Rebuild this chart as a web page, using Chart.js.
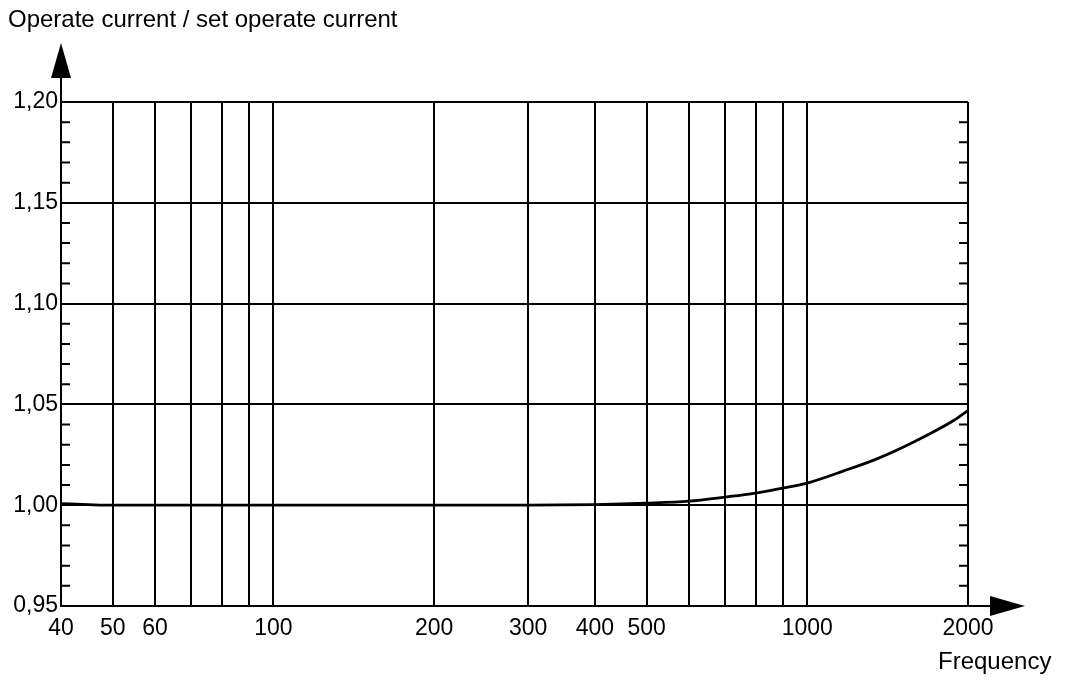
<!DOCTYPE html>
<html>
<head>
<meta charset="utf-8">
<script src="https://cdn.jsdelivr.net/npm/chart.js@4/dist/chart.umd.min.js"></script>
<style>
  html, body { margin: 0; padding: 0; background: #fff; }
  #wrap { width: 1071px; height: 681px; }
</style>
</head>
<body>
<div id="wrap"><canvas id="chart"></canvas></div>
<script>
  // curve
  var freqs = [40, 45, 50, 60, 100, 200, 300, 400, 500, 600, 700, 800, 900, 1000, 1170, 1350, 1600, 1880, 2000];
  var ratio = [1.0008, 1.0003, 1.0, 1.0, 1.0, 1.0, 1.0, 1.0003, 1.001, 1.002, 1.004, 1.006, 1.0085, 1.011, 1.017, 1.023, 1.032, 1.042, 1.047];

  var xGrid = [40, 50, 60, 70, 80, 90, 100, 200, 300, 400, 500, 600, 700, 800, 900, 1000, 2000];
  var xLabels = [40, 50, 60, 100, 200, 300, 400, 500, 1000, 2000];
  var yMajor = [0.95, 1.00, 1.05, 1.10, 1.15, 1.20];

  var yTitle = 'Operate current / set operate current';
  var xTitle = 'Frequency';

  var font = '"Liberation Sans", Arial, sans-serif';

  function isMajor(v) {
    return yMajor.some(function (m) { return Math.abs(m - v) < 1e-6; });
  }

  var decor = {
    id: 'decor',
    afterDraw: function (chart) {
      var ctx = chart.ctx;
      var a = chart.chartArea;
      var y = chart.scales.y;
      ctx.save();
      ctx.strokeStyle = '#000';
      ctx.fillStyle = '#000';
      ctx.lineWidth = 2;

      // minor ticks, inward on both sides
      y.ticks.forEach(function (t) {
        if (isMajor(t.value)) return;
        var py = y.getPixelForValue(t.value);
        ctx.beginPath();
        ctx.moveTo(a.left, py); ctx.lineTo(a.left + 9, py);
        ctx.moveTo(a.right, py); ctx.lineTo(a.right - 9, py);
        ctx.stroke();
      });

      // y arrow
      ctx.beginPath();
      ctx.moveTo(a.left, a.top); ctx.lineTo(a.left, 76);
      ctx.stroke();
      ctx.beginPath();
      ctx.moveTo(a.left, 43); ctx.lineTo(a.left + 10, 78); ctx.lineTo(a.left - 10, 78);
      ctx.closePath(); ctx.fill();

      // x arrow
      ctx.beginPath();
      ctx.moveTo(a.right, a.bottom); ctx.lineTo(992, a.bottom);
      ctx.stroke();
      ctx.beginPath();
      ctx.moveTo(1025, a.bottom); ctx.lineTo(990, a.bottom - 10); ctx.lineTo(990, a.bottom + 10);
      ctx.closePath(); ctx.fill();

      ctx.font = '24px ' + font;
      ctx.textBaseline = 'middle';
      ctx.textAlign = 'left';
      ctx.fillText(yTitle, 8, 20);
      ctx.fillText(xTitle, 938, 662);
      ctx.restore();
    }
  };

  new Chart(document.getElementById('chart'), {
    type: 'line',
    data: {
      datasets: [{
        data: freqs.map(function (f, i) { return { x: f, y: ratio[i] }; }),
        borderColor: '#000',
        borderWidth: 2.8,
        pointRadius: 0,
        cubicInterpolationMode: 'monotone',
        fill: false
      }]
    },
    options: {
      responsive: true,
      maintainAspectRatio: false,
      animation: false,
      layout: { padding: { top: 102, right: 103, left: 0, bottom: 0 } },
      plugins: { legend: { display: false }, tooltip: { enabled: false } },
      scales: {
        x: {
          type: 'logarithmic',
          min: 40,
          max: 2000,
          afterBuildTicks: function (scale) {
            scale.ticks = xGrid.map(function (v) { return { value: v }; });
          },
          afterFit: function (scale) { scale.height = 75; },
          border: { color: '#000', width: 2 },
          grid: { color: '#000', lineWidth: 2, drawTicks: false },
          ticks: {
            autoSkip: false,
            maxRotation: 0,
            padding: 9,
            color: '#000',
            font: { family: font, size: 23 },
            callback: function (v) { return xLabels.indexOf(v) >= 0 ? String(v) : ''; }
          }
        },
        y: {
          type: 'linear',
          min: 0.95,
          max: 1.20,
          afterFit: function (scale) { scale.width = 61; },
          border: { color: '#000', width: 2 },
          grid: {
            drawTicks: false,
            lineWidth: 2,
            color: function (c) { return isMajor(c.tick.value) ? '#000' : 'rgba(0,0,0,0)'; }
          },
          ticks: {
            stepSize: 0.01,
            autoSkip: false,
            padding: 3,
            color: '#000',
            font: { family: font, size: 23 },
            callback: function (v) { return isMajor(v) ? v.toFixed(2).replace('.', ',') : ''; }
          }
        }
      }
    },
    plugins: [decor]
  });
</script>
</body>
</html>
